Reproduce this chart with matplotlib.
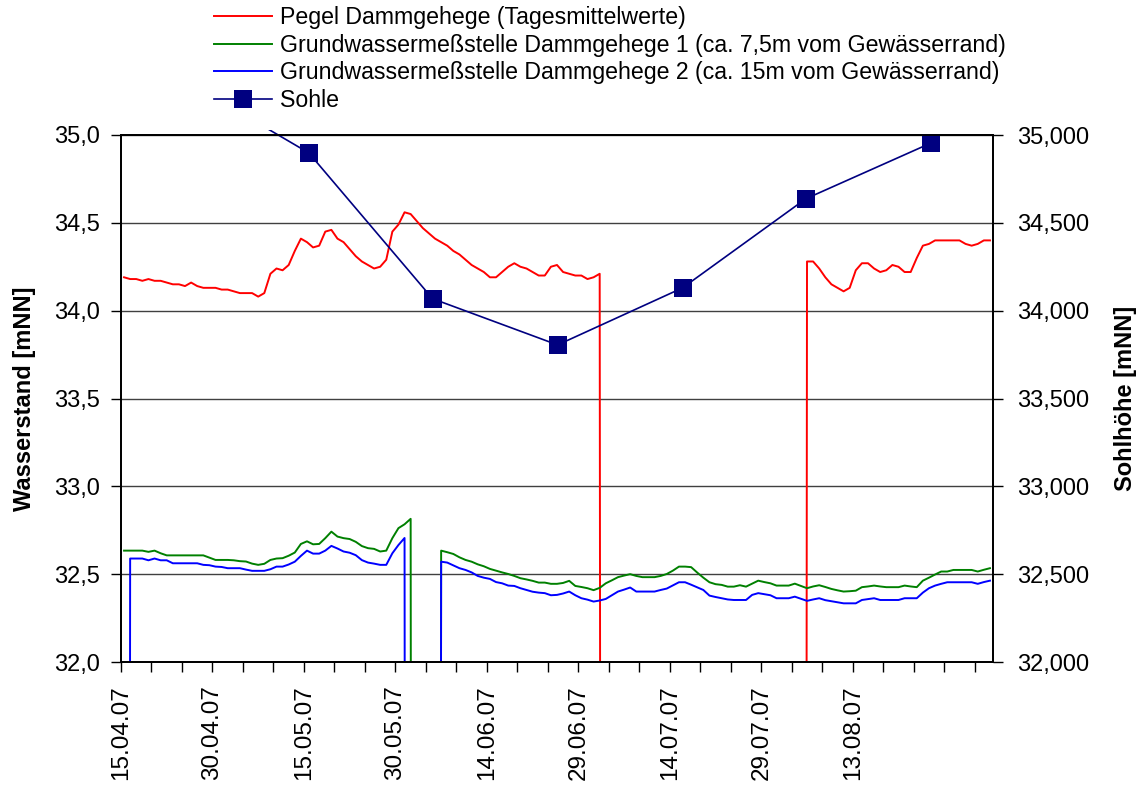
import numpy as np
import pandas as pd
import matplotlib
matplotlib.use("Agg")
import matplotlib.pyplot as plt
from matplotlib.ticker import FuncFormatter, MultipleLocator
from matplotlib.transforms import Bbox, TransformedBbox, ScaledTranslation

plt.rcParams['font.family'] = ['Liberation Sans', 'DejaVu Sans']

start = pd.Timestamp("2007-04-15")

# daily means, 15.04.07 onwards; 0.0 = no value (drawn as zero like the original)
pegel = [
    34.19, 34.18, 34.18, 34.17, 34.18, 34.17, 34.17, 34.16, 34.15, 34.15,
    34.14, 34.16, 34.14, 34.13, 34.13, 34.13, 34.12, 34.12, 34.11, 34.10,
    34.10, 34.10, 34.08, 34.10, 34.21, 34.24, 34.23, 34.26, 34.34, 34.41,
    34.39, 34.36, 34.37, 34.45, 34.46, 34.41, 34.39, 34.35, 34.31, 34.28,
    34.26, 34.24, 34.25, 34.29, 34.45, 34.49, 34.56, 34.55, 34.51, 34.47,
    34.44, 34.41, 34.39, 34.37, 34.34, 34.32, 34.29, 34.26, 34.24, 34.22,
    34.19, 34.19, 34.22, 34.25, 34.27, 34.25, 34.24, 34.22, 34.20, 34.20,
    34.25, 34.26, 34.22, 34.21, 34.20, 34.20, 34.18, 34.19, 34.21,
    0, 0, 0, 0, 0, 0, 0, 0, 0, 0, 0, 0, 0, 0, 0, 0, 0, 0, 0, 0,
    0, 0, 0, 0, 0, 0, 0, 0, 0, 0, 0, 0, 0,
    34.28, 34.28, 34.24, 34.19, 34.15, 34.13, 34.11, 34.13, 34.23, 34.27,
    34.27, 34.24, 34.22, 34.23, 34.26, 34.25, 34.22, 34.22, 34.30, 34.37,
    34.38, 34.40, 34.40, 34.40, 34.40, 34.40, 34.38, 34.37, 34.38, 34.40,
    34.40,
]

gw1 = [
    32.634, 32.634, 32.634, 32.634, 32.627, 32.634, 32.619, 32.607, 32.607, 32.607,
    32.607, 32.607, 32.607, 32.607, 32.594, 32.581, 32.581, 32.581, 32.579, 32.574,
    32.572, 32.560, 32.553, 32.559, 32.581, 32.589, 32.591, 32.605, 32.623, 32.672,
    32.687, 32.670, 32.672, 32.705, 32.742, 32.714, 32.705, 32.700, 32.684, 32.660,
    32.648, 32.644, 32.629, 32.634, 32.705, 32.762, 32.784, 32.815,
    0, 0, 0, 0,
    32.634, 32.625, 32.615, 32.596, 32.581, 32.571, 32.556, 32.545, 32.530, 32.520,
    32.510, 32.501, 32.490, 32.477, 32.470, 32.462, 32.452, 32.452, 32.445, 32.445,
    32.450, 32.462, 32.433, 32.427, 32.420, 32.409, 32.422, 32.448, 32.465, 32.483,
    32.492, 32.500, 32.490, 32.483, 32.483, 32.483, 32.490, 32.501, 32.520, 32.543,
    32.543, 32.540, 32.509, 32.480, 32.454, 32.443, 32.439, 32.429, 32.429, 32.437,
    32.429, 32.446, 32.463, 32.455, 32.448, 32.435, 32.435, 32.435, 32.446, 32.433,
    32.420, 32.430, 32.437, 32.427, 32.416, 32.408, 32.401, 32.403, 32.406, 32.426,
    32.430, 32.435, 32.430, 32.426, 32.426, 32.426, 32.435, 32.430, 32.426, 32.463,
    32.480, 32.498, 32.515, 32.515, 32.524, 32.524, 32.524, 32.524, 32.515, 32.525,
    32.534,
]

gw2 = [
    0, 32.589, 32.589, 32.589, 32.579, 32.589, 32.579, 32.579, 32.562, 32.562,
    32.562, 32.562, 32.562, 32.553, 32.551, 32.543, 32.541, 32.534, 32.534, 32.534,
    32.526, 32.519, 32.519, 32.519, 32.528, 32.543, 32.543, 32.555, 32.571, 32.604,
    32.634, 32.617, 32.617, 32.634, 32.661, 32.646, 32.629, 32.622, 32.608, 32.580,
    32.566, 32.560, 32.553, 32.553, 32.619, 32.666, 32.706,
    0, 0, 0, 0, 0,
    32.571, 32.566, 32.550, 32.534, 32.524, 32.510, 32.490, 32.480, 32.473, 32.455,
    32.448, 32.435, 32.433, 32.420, 32.410, 32.400, 32.395, 32.392, 32.380, 32.382,
    32.390, 32.401, 32.380, 32.363, 32.355, 32.344, 32.350, 32.359, 32.380, 32.401,
    32.412, 32.424, 32.401, 32.401, 32.401, 32.401, 32.410, 32.418, 32.436, 32.454,
    32.454, 32.440, 32.425, 32.410, 32.378, 32.370, 32.363, 32.356, 32.353, 32.353,
    32.353, 32.382, 32.392, 32.386, 32.380, 32.363, 32.363, 32.363, 32.372, 32.360,
    32.348, 32.356, 32.363, 32.352, 32.346, 32.340, 32.334, 32.334, 32.334, 32.353,
    32.358, 32.363, 32.353, 32.353, 32.353, 32.353, 32.363, 32.363, 32.363, 32.395,
    32.420, 32.435, 32.445, 32.454, 32.454, 32.454, 32.454, 32.454, 32.445, 32.455,
    32.463,
]

# Sohle: position in days after 15.04.07, height in mNN (right axis)
sohle_days = [10.4, 30.8, 51.1, 71.6, 92.1, 112.3, 132.8]
sohle = [35313, 34898, 34068, 33805, 34130, 34637, 34954]

labels = [
    "Pegel Dammgehege (Tagesmittelwerte)",
    "Grundwassermeßstelle Dammgehege 1 (ca. 7,5m vom Gewässerrand)",
    "Grundwassermeßstelle Dammgehege 2 (ca. 15m vom Gewässerrand)",
    "Sohle",
]

# labelled dates on the x axis (ticks every 5 days, label every 15)
date_labels = ["15.04.07", "30.04.07", "15.05.07", "30.05.07", "14.06.07",
               "29.06.07", "14.07.07", "29.07.07", "13.08.07"]

days = pd.date_range(start, periods=len(pegel), freq="D") + pd.Timedelta(hours=12)
sohle_x = [start + pd.Timedelta(days=d) for d in sohle_days]
x_end = start + pd.Timedelta(days=len(pegel))

W, H = 1141, 785
fig = plt.figure(figsize=(W / 100, H / 100), dpi=100)
ax = fig.add_axes([121 / W, 1 - 662 / H, (993 - 121) / W, (662 - 135) / H])
ax2 = ax.twinx()

l1, = ax.plot(days, pegel, color="#ff0000", lw=1.4)
l2, = ax.plot(days, gw1, color="#008000", lw=1.4)
l3, = ax.plot(days, gw2, color="#0000ff", lw=1.4)
l4, = ax2.plot(sohle_x, sohle, color="#000080", lw=1.2, marker="s",
               markersize=12.5, markeredgewidth=0)
# the Sohle line runs a little past the top edge before it vanishes
l4.set_clip_box(TransformedBbox(Bbox([[0, 0], [1, 1.0095]]), ax2.transAxes))

ax.set_ylim(32.0, 35.0)
ax2.set_ylim(32000, 35000)
ax.set_xlim(start, x_end)
ax.yaxis.set_major_locator(MultipleLocator(0.5))
ax2.yaxis.set_major_locator(MultipleLocator(500))
ax.yaxis.set_major_formatter(FuncFormatter(lambda v, p: f"{v:.1f}".replace(".", ",")))
ax2.yaxis.set_major_formatter(FuncFormatter(lambda v, p: f"{v / 1000:.3f}".replace(".", ",")))

ticks = pd.date_range(start, x_end, freq="5D")
tick_text = [""] * len(ticks)
for i, lab in enumerate(date_labels):
    tick_text[3 * i] = lab
ax.set_xticks(ticks)
ax.set_xticklabels(tick_text, rotation=90)
shift = ScaledTranslation(5 / 100, 0, fig.dpi_scale_trans)
for lab in ax.get_xticklabels():
    lab.set_transform(lab.get_transform() + shift)

ax.grid(axis="y", color="#404040", lw=1)
ax.set_axisbelow(True)
for a in (ax, ax2):
    for s in a.spines.values():
        s.set_linewidth(1.3)
ax.tick_params(axis="y", direction="out", length=7, width=1, labelsize=17, pad=8)
ax2.tick_params(axis="y", direction="out", length=7, width=1, labelsize=17, pad=10)
ax.tick_params(axis="x", direction="out", length=7, width=1, labelsize=17.5, pad=10)

ax.set_ylabel("Wasserstand [mNN]", fontsize=17, fontweight="bold")
ax.yaxis.set_label_coords(-0.097, 0.5)
ax2.set_ylabel("Sohlhöhe [mNN]", fontsize=17, fontweight="bold")
ax2.yaxis.set_label_coords(1.139, 0.5)

fig.legend([l1, l2, l3, l4], labels, loc="upper left", bbox_to_anchor=(214 / W, 1 - 6 / H),
           frameon=False, fontsize=16.7, handlelength=2.5, handletextpad=0.35,
           labelspacing=0.2, borderpad=0, borderaxespad=0)

fig.savefig("out.png", dpi=100)
